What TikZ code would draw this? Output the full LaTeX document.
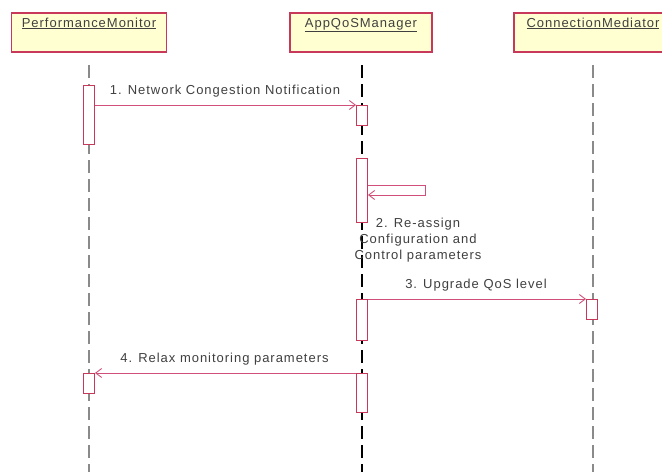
\documentclass[tikz,border=0pt]{standalone}
\usepackage{fontspec}
\setmainfont{Liberation Sans}[LetterSpace=7.5]
\usetikzlibrary{arrows.meta}
\definecolor{boxred}{HTML}{C8385A}
\definecolor{boxfill}{HTML}{FFFFD2}
\definecolor{msgred}{HTML}{D0507A}
\definecolor{lifegray}{HTML}{8A8A8A}
\definecolor{txt}{HTML}{404040}
\begin{document}
\begin{tikzpicture}[x=1pt,y=-1pt,
  objbox/.style={draw=boxred, line width=1.5pt, fill=boxfill, minimum width=#1, minimum height=39pt, inner sep=0pt},
  objname/.style={font=\fontsize{13}{15}\selectfont, text=txt, inner sep=0pt, anchor=base},
  lifeline/.style={draw=lifegray, line width=1.2pt, dash pattern=on 13pt off 6pt},
  mainlife/.style={draw=black, line width=1.6pt, dash pattern=on 13pt off 6pt},
  act/.style={draw=boxred, line width=1.4pt, fill=white, minimum width=10.5pt, inner sep=0pt, anchor=north, minimum height=#1},
  msg/.style={draw=msgred, line width=0.9pt, -{Straight Barb[length=6pt,width=9pt]}},
  msglabel/.style={font=\fontsize{13}{16}\selectfont, text=txt, inner sep=0pt, align=center}
]
\useasboundingbox (0,0) rectangle (662,472);
\clip (0,0) rectangle (662,472);
\fill[white] (0,0) rectangle (662,472);

% objects
\node[objbox=155pt] (pm) at (89,32.5) {};
\node[objbox=142pt] (aq) at (361,32.5) {};
\node[objbox=158pt] (cm) at (593,32.5) {};
\node[objname] (pmn) at (89,27) {\underline{PerformanceMonitor}};
\node[objname] (aqn) at (361,27) {\underline{AppQoSManager}};
\node[objname] (cmn) at (593,27) {\underline{ConnectionMediator}};

% lifelines
\coordinate (pmt) at (89,65);  \coordinate (pmb) at (89,472);
\coordinate (aqt) at (362,65); \coordinate (aqb) at (362,472);
\coordinate (cmt) at (593,65); \coordinate (cmb) at (593,472);
\draw[lifeline] (pmt) -- (pmb);
\draw[mainlife] (aqt) -- (aqb);
\draw[lifeline] (cmt) -- (cmb);

% activations
\node[act=59pt] (a1) at (89,85) {};
\node[act=20pt] (a2) at (362,105) {};
\node[act=64pt] (a3) at (362,158) {};
\node[act=41pt] (a5) at (362,299) {};
\node[act=20pt] (a6) at (592,299) {};
\node[act=20pt] (a7) at (89,373) {};
\node[act=39pt] (a8) at (362,373) {};

% messages
\draw[msg] (a1.east |- a2.north) -- (a2.north west);
\coordinate (s1) at (425,185);
\coordinate (s2) at (425,195);
\draw[msg] (a3.east |- s1) -- (s1) -- (s2) -- (a3.east |- s2);
\draw[msg] (a5.north east) -- (a6.north west);
\draw[msg] (a8.north west) -- (a7.north east);

% labels
\node[msglabel] (l1) at (225,91.5) {1. Network Congestion Notification};
\node[msglabel] (l2) at (418,240) {2. Re-assign\\Configuration and\\Control parameters};
\node[msglabel] (l3) at (476,285.5) {3. Upgrade QoS level};
\node[msglabel] (l4) at (224.5,359.5) {4. Relax monitoring parameters};
\end{tikzpicture}
\end{document}
